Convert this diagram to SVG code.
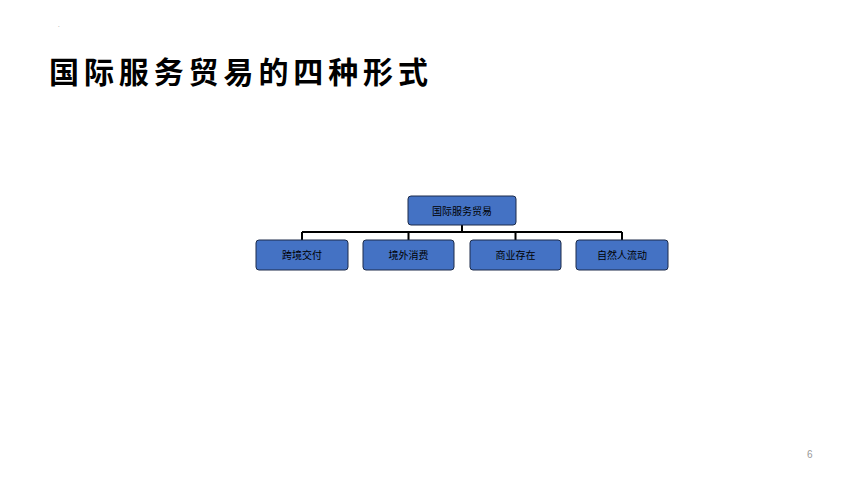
<svg xmlns="http://www.w3.org/2000/svg" width="860" height="484" viewBox="0 0 860 484">
<style>
.node rect{fill:#4472C4;stroke:#1c2b4a;stroke-width:1}
.node text{font-family:"Liberation Sans","Noto Sans CJK SC",sans-serif;font-size:10px;fill:#000;text-anchor:middle}
.conn{stroke:#000;stroke-width:2;fill:none}
</style>
<rect width="860" height="484" fill="#fff"/>
<text x="58" y="27" font-family="Liberation Sans,sans-serif" font-size="6" fill="#666">.</text>
<text x="49" y="83" font-family="'Liberation Sans','Noto Sans CJK SC',sans-serif" font-size="30" font-weight="bold" letter-spacing="4.9" fill="#000">国际服务贸易的四种形式</text>
<g id="connectors">
<path class="conn" d="M462 225V232M302 232H622M302 232V240M408.5 232V240M515.5 232V240M622 232V240"/>
</g>
<g id="n0" class="node"><rect x="408" y="196" width="108" height="29" rx="3"/><text x="462" y="214.5">国际服务贸易</text></g>
<g id="n1" class="node"><rect x="256" y="240" width="92" height="30" rx="3"/><text x="302" y="258.5">跨境交付</text></g>
<g id="n2" class="node"><rect x="363" y="240" width="91" height="30" rx="3"/><text x="408.5" y="258.5">境外消费</text></g>
<g id="n3" class="node"><rect x="470" y="240" width="91" height="30" rx="3"/><text x="515.5" y="258.5">商业存在</text></g>
<g id="n4" class="node"><rect x="576" y="240" width="92" height="30" rx="3"/><text x="622" y="258.5">自然人流动</text></g>
<text x="807" y="458" font-family="'Liberation Sans',sans-serif" font-size="10" fill="#999">6</text>
</svg>
